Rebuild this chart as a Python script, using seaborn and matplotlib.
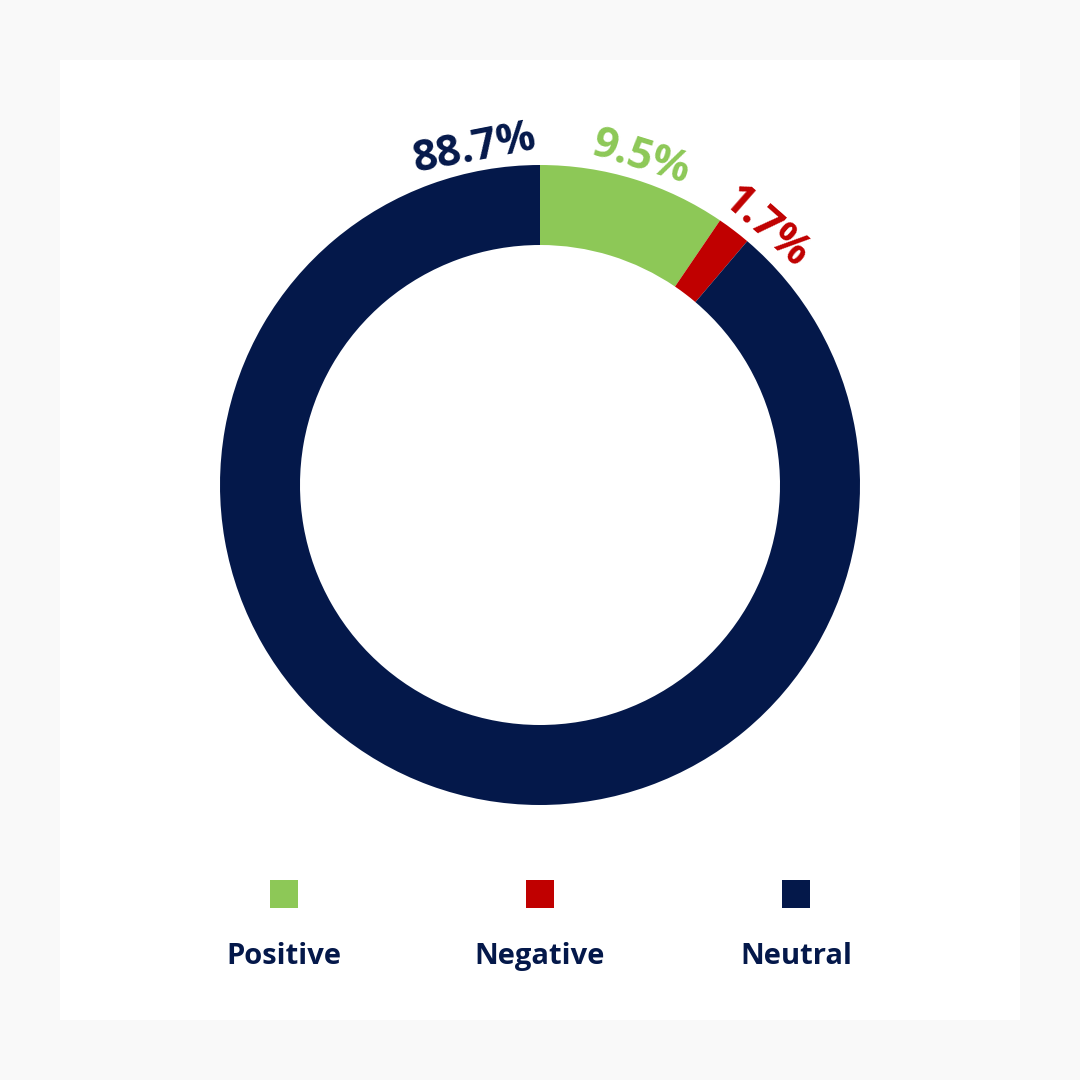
import numpy as np
import matplotlib
matplotlib.use("Agg")
import matplotlib.pyplot as plt
from matplotlib.patches import Rectangle
import seaborn as sns

# DATA
categories = ["Positive", "Negative", "Neutral"]
shares = [9.5, 1.7, 88.7]
pct_labels = ["9.5%", "1.7%", "88.7%"]
colors = ["#8DC857", "#C00000", "#04184A"]

NAVY = "#04184A"

sns.set_style("white")
plt.rcParams["font.family"] = ["Open Sans", "DejaVu Sans"]

fig = plt.figure(figsize=(10.8, 10.8), dpi=100)
fig.patch.set_facecolor("#F9F9F9")
# white card behind the chart
fig.patches.append(Rectangle((60 / 1080, 60 / 1080), 960 / 1080, 960 / 1080,
                             transform=fig.transFigure, facecolor="white",
                             edgecolor="none", zorder=-10))

# donut: centre at (540, 485) px, outer radius 320 px
ax = fig.add_axes([140 / 1080, 195 / 1080, 800 / 1080, 800 / 1080])
ax.set_facecolor("none")
ax.set_zorder(5)
wedges, _ = ax.pie(shares, colors=colors, startangle=90, counterclock=False,
                   radius=1.0, wedgeprops=dict(width=0.25, linewidth=0))
ax.set_xlim(-1.25, 1.25)
ax.set_ylim(-1.25, 1.25)
ax.axis("off")

# percentage labels around the ring (angle measured clockwise from 12 o'clock)
total = sum(shares)
starts = np.cumsum([0] + shares[:-1]) / total * 360
mids = starts + np.array(shares) / total * 180
label_angles = [mids[0], mids[1] + 4, 360 - 11]
for lab, ang, col in zip(pct_labels, label_angles, colors):
    a = np.deg2rad(ang)
    r = 1.085
    ax.text(r * np.sin(a), r * np.cos(a), lab, color=col, fontsize=31,
            fontweight="bold", ha="center", va="center_baseline",
            rotation=-ang if ang < 180 else 360 - ang,
            rotation_mode="anchor")

# legend: squares above bold names
lg = fig.add_axes([156 / 1080, 90 / 1080, 768 / 1080, 130 / 1080])
lg.set_facecolor("none")
lg.set_zorder(5)
xs = list(range(len(categories)))
sns.scatterplot(x=xs, y=[0.738] * len(xs), hue=categories, palette=colors,
                marker="s", s=406, linewidth=0, legend=False, ax=lg)
for x, name in zip(xs, categories):
    lg.text(x, 0.26, name, color=NAVY, fontsize=21, fontweight="bold",
            ha="center", va="center")
lg.set_xlim(-0.5, 2.5)
lg.set_ylim(0, 1)
lg.axis("off")

fig.savefig("out.png", dpi=100, facecolor=fig.get_facecolor())
